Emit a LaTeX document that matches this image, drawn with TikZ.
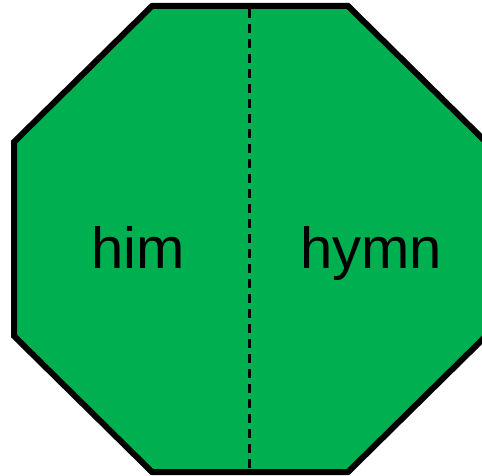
\documentclass[tikz,border=0pt]{standalone}
\usepackage{fontspec}
\setmainfont{Liberation Sans}
\usetikzlibrary{positioning,calc}

\definecolor{signgreen}{HTML}{00B050}

\begin{document}
\begin{tikzpicture}[
  x=1pt, y=-1pt,
  octa/.style={draw=black, line width=6pt, fill=signgreen, line join=miter},
  fold/.style={draw=black, line width=3pt, dash pattern=on 9pt off 6pt},
  word/.style={anchor=base, font=\fontsize{58}{60}\selectfont, inner sep=0pt}
]

\useasboundingbox (0,0) rectangle (482,476);

\coordinate (c1) at (152,6);
\coordinate (c2) at (348,6);
\coordinate (c3) at (486,142);
\coordinate (c4) at (486,336);
\coordinate (c5) at (348,472);
\coordinate (c6) at (152,472);
\coordinate (c7) at (14,336);
\coordinate (c8) at (14,142);

\draw[octa] (c1) -- (c2) -- (c3) -- (c4) -- (c5) -- (c6) -- (c7) -- (c8) -- cycle;

\coordinate (foldtop) at (249,9);
\coordinate (foldbot) at (249,469);
\draw[fold] (foldtop) -- (foldbot);

\node[word] (left) at (138,268) {him};
\node[word] (right) at (371,268) {hymn};

\end{tikzpicture}
\end{document}
